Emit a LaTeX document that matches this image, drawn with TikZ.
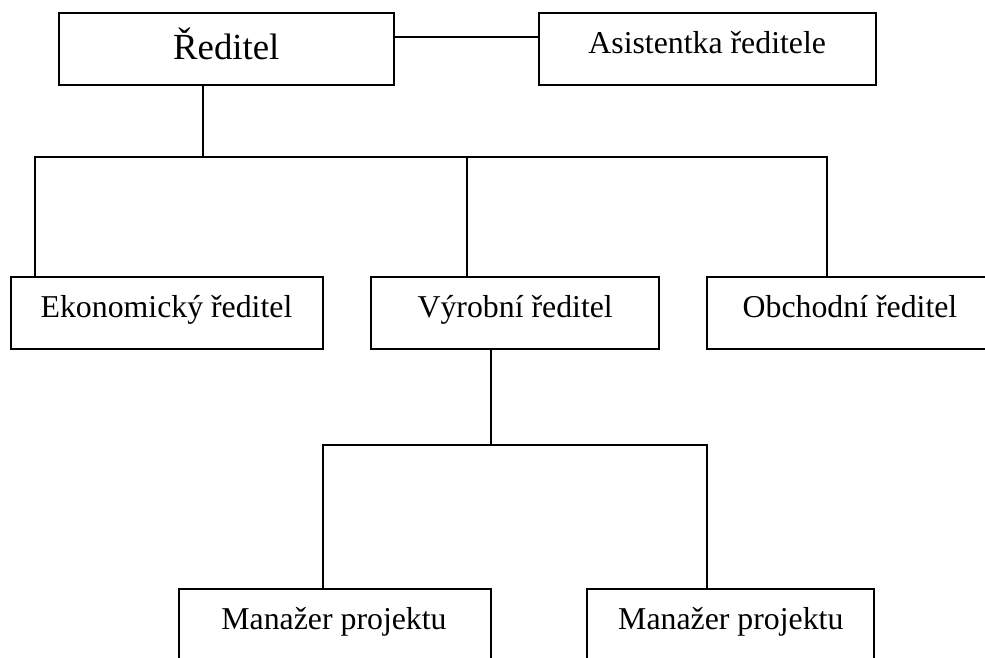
\documentclass[tikz,border=0pt]{standalone}
\usepackage{fontspec}
\setmainfont{Liberation Serif}
\usetikzlibrary{calc}
\begin{document}
\begin{tikzpicture}[x=1pt,y=-1pt,line width=1.9pt,
  box/.style={draw, rectangle, inner sep=0pt, outer sep=0pt, minimum height=72pt},
  lbl/.style={anchor=base, inner sep=0pt, font=\fontsize{31.8}{38}\selectfont},
  big/.style={anchor=base, inner sep=0pt, font=\fontsize{36.8}{44}\selectfont}]
\useasboundingbox (0,0) rectangle (985,657);
\clip (0,0) rectangle (985,657);
% boxes
\node[box, minimum width=335.3pt] (red) at (226.3,49.3) {};
\node[box, minimum width=337pt] (asi) at (707.2,49.3) {};
\node[box, minimum width=312.3pt] (eko) at (166.85,313.3) {};
\node[box, minimum width=288.3pt] (vyr) at (514.85,313.3) {};
\node[box, minimum width=283.3pt] (obc) at (848.35,313.3) {};
\node[box, minimum width=312pt, minimum height=80.7pt] (man1) at (334.7,629.65) {};
\node[box, minimum width=287.6pt, minimum height=80.7pt] (man2) at (730.5,629.65) {};
% texts
\node[big] (redt) at (226.3,59.3) {Ředitel};
\node[lbl] (asit) at (707.2,53.3) {Asistentka ředitele};
\node[lbl] (ekot) at (166.5,317.5) {Ekonomický ředitel};
\node[lbl] (vyrt) at (515.2,317.3) {Výrobní ředitel};
\node[lbl] (obct) at (850,317.3) {Obchodní ředitel};
\node[lbl] (man1t) at (334,629.5) {Manažer projektu};
\node[lbl] (man2t) at (730.8,629.5) {Manažer projektu};
% junctions
\coordinate (j0) at (202.7,157.3);
\coordinate (j1) at (34.7,157.3);
\coordinate (j2) at (466.7,157.3);
\coordinate (j3) at (826.7,157.3);
\coordinate (k0) at (490.7,445);
\coordinate (k1) at (323,445);
\coordinate (k2) at (706.7,445);
% connectors
\draw ($(red.north east)+(0,24)$) -- ($(asi.north west)+(0,24)$);
\draw (red.south -| j0) -- (j0);
\draw (eko.north -| j1) -- (j1) -- (j3) -- (obc.north -| j3);
\draw (j2) -- (vyr.north -| j2);
\draw (vyr.south -| k0) -- (k0);
\draw (man1.north -| k1) -- (k1) -- (k2) -- (man2.north -| k2);
\end{tikzpicture}
\end{document}
